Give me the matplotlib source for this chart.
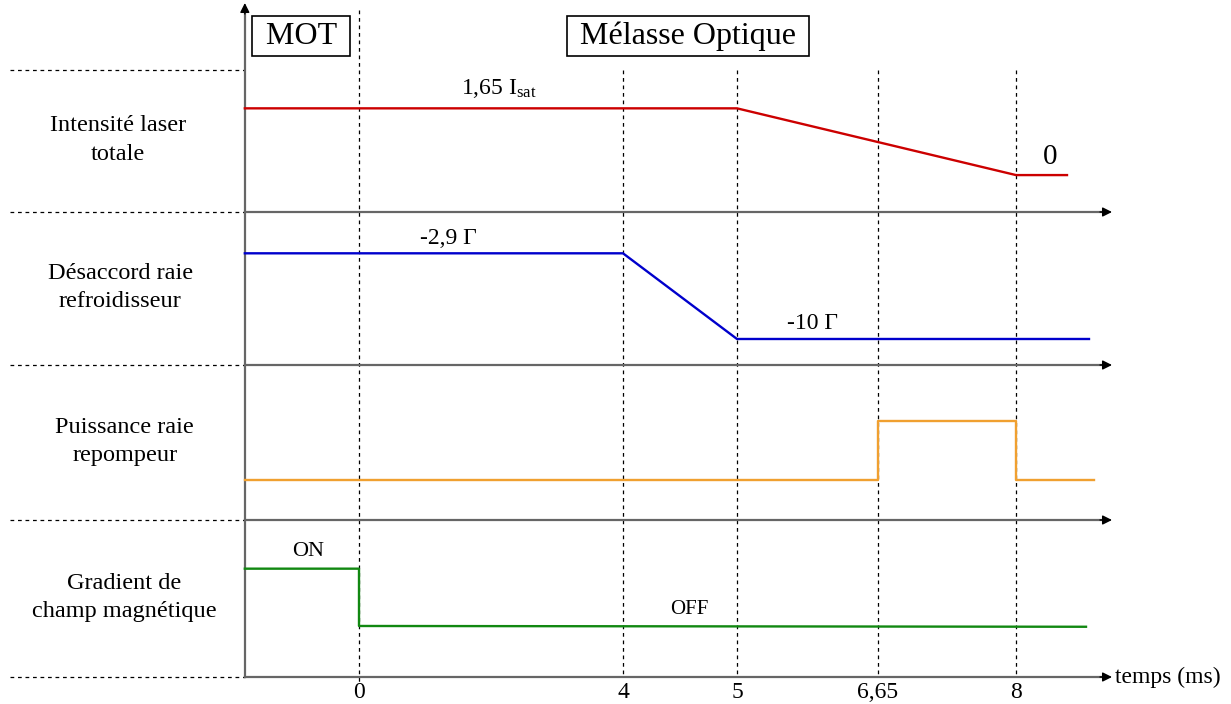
import numpy as np
import matplotlib
matplotlib.use('Agg')
import matplotlib.pyplot as plt

plt.rcParams['font.family'] = ['Liberation Serif', 'DejaVu Serif']
plt.rcParams['mathtext.fontset'] = 'custom'
plt.rcParams['mathtext.rm'] = 'Liberation Serif'
plt.rcParams['mathtext.it'] = 'Liberation Serif:italic'

# instants (ms) marked on the time axis
tick_times = [0, 4, 5, 6.65, 8]
tick_labels = ['0', '4', '5', '6,65', '8']

row_labels = ['Intensité laser\ntotale',
              'Désaccord raie\nrefroidisseur',
              'Puissance raie\nrepompeur',
              'Gradient de\nchamp magnétique']

t_start = -1.73   # start of the MOT phase as drawn

# each signal : times (ms) and level inside its row (0 = bottom, 1 = top)
intensity_t = [t_start, 5, 8, 8.51]
intensity_v = [0.73, 0.73, 0.26, 0.26]

detuning_t = [t_start, 4, 5, 8.73]
detuning_v = [0.73, 0.73, 0.17, 0.17]

repump_t = [t_start, 6.65, 6.65, 8, 8, 8.78]
repump_v = [0.26, 0.26, 0.64, 0.64, 0.26, 0.26]

gradient_t = [t_start, 0, 0, 8.70]
gradient_v = [0.69, 0.69, 0.325, 0.32]

signals = [(intensity_t, intensity_v, '#cc0000'),
           (detuning_t, detuning_v, '#0000cc'),
           (repump_t, repump_v, '#f0a030'),
           (gradient_t, gradient_v, '#118811')]

# value labels: (row, time, level, text, size)
value_texts = [(0, 2.12, 0.87, '1,65 I$_{\\mathrm{sat}}$', 17),
               (0, 8.34, 0.39, '0', 21),
               (1, 1.36, 0.83, '-2,9 Γ', 17),
               (1, 5.88, 0.27, '-10 Γ', 17),
               (3, -0.77, 0.80, 'ON', 16),
               (3, 4.58, 0.43, 'OFF', 15)]

# schematic (non linear) time axis
t_nodes = [-5.44, 0, 4, 5, 6.65, 8, 10.15]
px_nodes = [0, 359, 623, 737, 878, 1016, 1231]

def fwd(t):
    return np.interp(t, t_nodes, px_nodes)

def inv(p):
    return np.interp(p, px_nodes, t_nodes)

# rows layout (pixel units, top to bottom)
row_top = [70, 212, 365, 520]
row_bottom = [212, 365, 520, 677]
label_x = [-3.65, -3.62, -3.55, -3.56]

def ry(i, v):
    return row_bottom[i] - np.asarray(v) * (row_bottom[i] - row_top[i])

fig = plt.figure(figsize=(12.31, 7.04), dpi=100)
ax = fig.add_axes([0, 0, 1, 1])
ax.set_xscale('function', functions=(fwd, inv))
ax.set_xlim(t_nodes[0], t_nodes[-1])
ax.set_ylim(704, 0)
ax.axis('off')

dash = (0, (3, 3))
t_arrow = 8.96

# left dashed separators
for y in [70] + row_bottom:
    ax.plot([-5.29, t_start], [y, y], color='black', lw=0.9, ls=dash)

# vertical dashed markers
ax.plot([0, 0], [10, 685], color='black', lw=0.9, ls=dash)
for t in tick_times[1:]:
    ax.plot([t, t], [70, 677], color='black', lw=0.9, ls=dash)

# time axes
for y in row_bottom:
    ax.plot([t_start, t_arrow - 0.1], [y, y], color='#666666', lw=1.6)
    ax.annotate('', xy=(t_arrow, y), xytext=(t_arrow - 0.12, y),
                arrowprops=dict(arrowstyle='-|>', color='black', lw=1,
                                mutation_scale=14, shrinkA=0, shrinkB=0))

# vertical axis
ax.plot([t_start, t_start], [677, 12], color='#666666', lw=1.6)
ax.annotate('', xy=(t_start, 3), xytext=(t_start, 14),
            arrowprops=dict(arrowstyle='-|>', color='black', lw=1,
                            mutation_scale=14, shrinkA=0, shrinkB=0))

# signals
for i, (t, v, c) in enumerate(signals):
    ax.plot(t, ry(i, v), color=c, lw=1.7)

for i, t, v, s, fs in value_texts:
    ax.text(t, ry(i, v), s, ha='center', va='center', fontsize=fs)

# row names
for i, lab in enumerate(row_labels):
    ax.text(label_x[i], (row_top[i] + row_bottom[i]) / 2 - 1, lab,
            ha='center', va='center', fontsize=17.5, linespacing=1.45)

# phase boxes
box = dict(boxstyle='square,pad=0.17', fc='white', ec='black', lw=1.2)
ax.text(-0.88, 36, ' MOT ', ha='center', va='center', fontsize=23, bbox=box)
ax.text(4.57, 36, ' Mélasse Optique ', ha='center', va='center',
        fontsize=23, bbox=box)

# tick labels
for t, lab in zip(tick_times, tick_labels):
    ax.text(t, 693, lab, ha='center', va='center', fontsize=17)
ax.text(8.99, 677, 'temps (ms)', ha='left', va='center', fontsize=17)

fig.savefig('out.png', dpi=100)
